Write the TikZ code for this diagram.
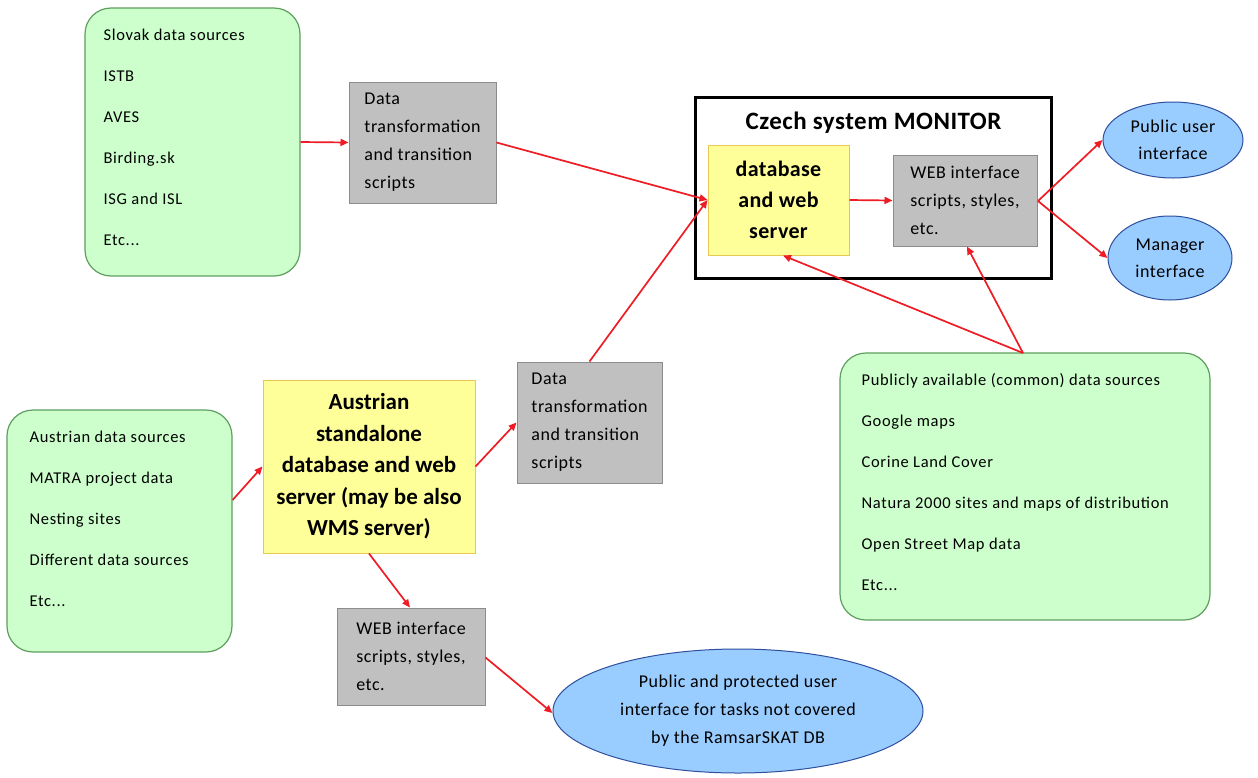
\documentclass[tikz,border=0pt]{standalone}
\usepackage{fontspec}
\setmainfont{Carlito}
\usetikzlibrary{shapes.geometric,arrows.meta}
\definecolor{gfill}{HTML}{CCFFCC}
\definecolor{gdraw}{HTML}{5E9E5E}
\definecolor{grfill}{HTML}{C0C0C0}
\definecolor{grdraw}{HTML}{8C8C8C}
\definecolor{yfill}{HTML}{FFFF99}
\definecolor{ydraw}{HTML}{E8C850}
\definecolor{bfill}{HTML}{99CCFF}
\definecolor{bdraw}{HTML}{2F4F9F}
\definecolor{arr}{HTML}{EE1C24}
\tikzset{
  greenbox/.style={draw=gdraw, fill=gfill, line width=1.2pt, rounded corners=26pt, inner sep=0pt},
  graybox/.style={draw=grdraw, fill=grfill, line width=1pt, align=left, inner sep=0pt},
  yellowbox/.style={draw=ydraw, fill=yfill, line width=1pt, align=center, inner sep=0pt},
  blueell/.style={ellipse, draw=bdraw, fill=bfill, line width=1pt, align=center, inner sep=0pt},
  conn/.style={draw=arr, line width=1.7pt, -{Triangle[length=8pt,width=7pt]}},
  gtext/.style={anchor=north west, inner sep=0pt, align=left, font={\addfontfeatures{LetterSpace=4}\fontsize{16.5}{41}\selectfont}},
  grtext/.style={font={\addfontfeatures{LetterSpace=3}\fontsize{18}{28}\selectfont}},
  eltext/.style={font={\addfontfeatures{LetterSpace=3}\fontsize{18}{27}\selectfont}},
}
\begin{document}
\begin{tikzpicture}[x=1pt,y=-1pt]
\useasboundingbox (0,0) rectangle (1258,777);
\fill[white] (0,0) rectangle (1258,777);

% Slovak sources
\node[greenbox, minimum width=215pt, minimum height=268pt] (slovak) at (192.5,142) {};
\node[gtext] (slovak-t) at ([xshift=19pt,yshift=-21pt]slovak.north west)
 {Slovak data sources\\ISTB\\AVES\\Birding.sk\\ISG and ISL\\Etc...};
\node[graybox, grtext, minimum width=147pt, minimum height=121pt] (gray1) at (422.5,142.5)
 {Data\\transformation\\and transition\\scripts};

% Czech system
\node[draw=black, line width=3pt, minimum width=356pt, minimum height=181pt, inner sep=0pt] (czech) at (873,187.5) {};
\node[font={\bfseries\addfontfeatures{LetterSpace=2}\fontsize{25}{28}\selectfont}, inner sep=0pt] (cztitle) at (873.5,123) {Czech system MONITOR};
\node[yellowbox, font={\bfseries\addfontfeatures{LetterSpace=1.5}\fontsize{22}{31}\selectfont}, minimum width=141pt, minimum height=110pt] (czdb) at (778.5,200)
 {database\\and web\\server};
\node[graybox, grtext, minimum width=144pt, minimum height=91pt] (czweb) at (965,200.5)
 {WEB interface\\scripts, styles,\\etc.};
\node[blueell, eltext, minimum width=140pt, minimum height=76pt] (pub) at (1173,140)
 {Public user\\interface};
\node[blueell, eltext, minimum width=124pt, minimum height=84pt] (mgr) at (1170,258)
 {Manager\\interface};

% Common sources
\node[greenbox, minimum width=370pt, minimum height=267pt] (common) at (1025,486.5) {};
\node[gtext] (common-t) at ([xshift=22pt,yshift=-21pt]common.north west)
 {Publicly available (common) data sources\\Google maps\\Corine Land Cover\\Natura 2000 sites and maps of distribution\\Open Street Map data\\Etc...};

% Austrian
\node[greenbox, minimum width=225pt, minimum height=242pt] (austrian) at (119.5,531) {};
\node[gtext] (austrian-t) at ([xshift=23pt,yshift=-21pt]austrian.north west)
 {Austrian data sources\\MATRA project data\\Nesting sites\\Different data sources\\Etc...};
\node[yellowbox, font={\bfseries\fontsize{23}{31.5}\selectfont}, minimum width=212pt, minimum height=173pt] (atdb) at (369,466.5)
 {Austrian\\standalone\\database and web\\server (may be also\\WMS server)};
\node[graybox, grtext, minimum width=145pt, minimum height=121pt] (gray2) at (589.5,422.5)
 {Data\\transformation\\and transition\\scripts};
\node[graybox, grtext, minimum width=148pt, minimum height=97pt] (gray3) at (411,656.5)
 {WEB interface\\scripts, styles,\\etc.};
\node[blueell, font={\addfontfeatures{LetterSpace=3}\fontsize{18}{28}\selectfont}, minimum width=370pt, minimum height=124pt] (bigell) at (738,711)
 {Public and protected user\\interface for tasks not covered\\by the RamsarSKAT DB};

% connector anchors
\coordinate (cfrom) at (1023,353);
\coordinate (wfrom) at (1038,201);

% connectors
\draw[conn] (slovak.east) -- (gray1.west);
\draw[conn] (gray1.east) -- (czdb.west);
\draw[conn] (gray2.north) -- (czdb.west);
\draw[conn] (czdb.east) -- (czweb.west);
\draw[conn] (wfrom) -- (pub.west);
\draw[conn] (wfrom) -- (mgr.west);
\draw[conn] (cfrom) -- ([xshift=4.5pt]czdb.south);
\draw[conn] (cfrom) -- ([xshift=2pt]czweb.south);
\draw[conn] ([yshift=31pt]austrian.east) -- (atdb.west);
\draw[conn] (atdb.east) -- (gray2.west);
\draw[conn] (atdb.south) -- ([xshift=-1pt]gray3.north);
\draw[conn] ([yshift=-1pt]gray3.east) -- ([yshift=-2pt]bigell.west);
\end{tikzpicture}
\end{document}
